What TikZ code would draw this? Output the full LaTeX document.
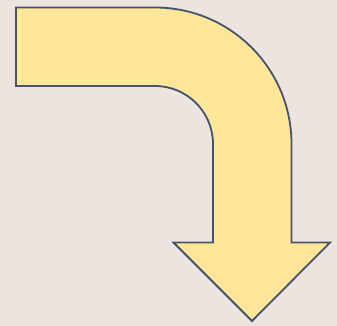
\documentclass[tikz,border=0pt]{standalone}
\definecolor{bgpink}{HTML}{EDE3DF}
\definecolor{arrowfill}{HTML}{FFE699}
\definecolor{arrowline}{HTML}{44546A}
\begin{document}
\begin{tikzpicture}[x=1pt,y=1pt]
  \fill[bgpink] (0,0) rectangle (337,326);
  \useasboundingbox (0,0) rectangle (337,326);
  \draw[fill=arrowfill,draw=arrowline,line width=1.8pt,line join=miter]
    (16,318.5) -- (155,318.5) arc[start angle=90,end angle=0,radius=136.5]
    -- (291.5,83.5) -- (330,83.5) -- (252,5) -- (173.5,83.5) -- (213,83.5)
    -- (213,182) arc[start angle=0,end angle=90,radius=58]
    -- (16,240) -- cycle;
\end{tikzpicture}
\end{document}
